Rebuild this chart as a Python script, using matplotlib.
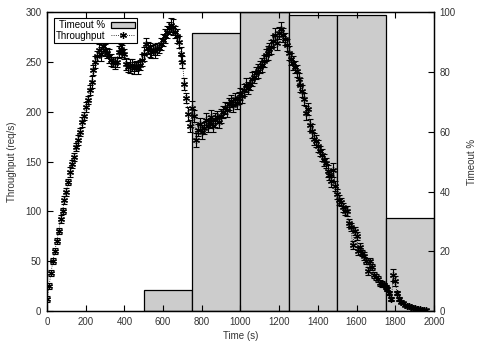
import numpy as np
import matplotlib
matplotlib.use("Agg")
import matplotlib.pyplot as plt

plt.rcParams['font.family'] = ['Liberation Sans', 'DejaVu Sans']

# timeout percentage per 250 s window
bin_left = [500, 750, 1000, 1250, 1500, 1750]
timeout_pct = [7, 93, 100, 99, 99, 31]
bin_width = 250

# throughput sampled every 10 s
time_s = np.arange(0, 1970, 10)
throughput = [
    12, 25, 38, 50, 60, 70, 80, 92, 100, 112,
    120, 130, 140, 148, 155, 165, 172, 180, 190, 196,
    205, 212, 222, 230, 242, 250, 256, 262, 258, 266,
    262, 259, 256, 252, 250, 249, 250, 260, 263, 261,
    258, 248, 245, 246, 247, 244, 246, 244, 247, 252,
    258, 268, 264, 262, 260, 262, 261, 263, 264, 268,
    272, 276, 280, 284, 287, 285, 280, 276, 270, 258,
    250, 228, 214, 198, 186, 204, 196, 172, 182, 188,
    180, 184, 192, 186, 190, 195, 186, 192, 195, 190,
    196, 200, 204, 202, 208, 211, 207, 213, 209, 214,
    218, 216, 222, 227, 224, 228, 233, 235, 239, 241,
    245, 247, 251, 257, 259, 263, 265, 271, 277, 269,
    279, 283, 277, 273, 267, 259, 253, 249, 245, 241,
    233, 227, 221, 213, 199, 203, 187, 181, 173, 171,
    166, 161, 157, 152, 149, 141, 137, 131, 142, 126,
    118, 112, 110, 104, 100, 100, 88, 84, 66, 80,
    75, 60, 64, 58, 55, 50, 40, 50, 44, 36,
    34, 32, 28, 27, 26, 24, 22, 18, 12, 36,
    30, 18, 12, 9, 8, 6, 5, 5, 4, 3,
    3, 2, 2, 2, 1, 1, 1,
]
throughput_err = [
    3, 3, 3, 3, 3, 3, 3, 4, 3, 4,
    4, 3, 5, 4, 4, 4, 5, 4, 5, 4,
    5, 4, 5, 6, 5, 6, 5, 6, 7, 5,
    6, 5, 7, 6, 5, 6, 5, 6, 5, 6,
    5, 6, 5, 7, 6, 6, 5, 6, 5, 6,
    7, 6, 6, 7, 6, 5, 7, 6, 5, 6,
    6, 7, 6, 6, 7, 8, 6, 7, 6, 7,
    6, 6, 5, 7, 6, 7, 6, 7, 6, 6,
    7, 6, 7, 6, 6, 7, 6, 7, 6, 6,
    7, 6, 6, 7, 6, 6, 7, 6, 6, 6,
    6, 7, 6, 7, 6, 6, 7, 6, 6, 7,
    6, 7, 6, 6, 7, 6, 7, 6, 7, 7,
    6, 7, 7, 6, 6, 7, 6, 7, 6, 6,
    6, 7, 6, 6, 7, 6, 6, 7, 6, 6,
    6, 5, 6, 6, 5, 6, 5, 6, 7, 5,
    5, 5, 4, 5, 4, 5, 4, 4, 4, 4,
    4, 4, 4, 3, 4, 3, 4, 3, 3, 3,
    3, 3, 3, 3, 2, 2, 2, 2, 2, 6,
    5, 2, 2, 1, 1, 1, 1, 1, 1, 1,
    1, 1, 1, 1, 1, 1, 1,
]

text_col = '#333333'

fig = plt.figure(figsize=(4.8, 3.45), dpi=100)
ax = fig.add_axes([0.098, 0.098, 0.806, 0.867])
ax2 = ax.twinx()

# timeout bars on the right axis, behind the throughput
bars = ax2.bar(bin_left, timeout_pct, width=bin_width, align='edge',
               color='#cccccc', edgecolor='black', linewidth=0.9,
               label='Timeout %')
ax2.set_ylim(0, 100)
ax2.set_yticks(range(0, 101, 20))
ax2.set_ylabel('Timeout %', fontsize=7, color=text_col, labelpad=8)

ax.set_zorder(ax2.get_zorder() + 1)
ax.patch.set_visible(False)

eb = ax.errorbar(time_s, throughput, yerr=throughput_err, fmt='none',
                 ecolor='black', elinewidth=0.8, capsize=2.5, capthick=0.8)
line, = ax.plot(time_s, throughput, color='black', linestyle=':',
                linewidth=0.6, marker=(6, 2, 0), markersize=5,
                markeredgewidth=0.9, label='Throughput')

ax.set_xlim(0, 2000)
ax.set_ylim(0, 300)
ax.set_xticks(range(0, 2001, 200))
ax.set_yticks(range(0, 301, 50))
ax.set_xlabel('Time (s)', fontsize=7, color=text_col, labelpad=3)
ax.set_ylabel('Throughput (req/s)', fontsize=7, color=text_col, labelpad=6)

for a in (ax, ax2):
    a.tick_params(direction='in', length=4, width=0.8, labelsize=7,
                  labelcolor=text_col, pad=4)
    for s in a.spines.values():
        s.set_linewidth(0.9)
ax.tick_params(top=True, right=False)
ax2.tick_params(left=False, top=False)

leg = ax.legend([bars, line], ['Timeout %', 'Throughput'], loc='upper left',
                markerfirst=False, fontsize=7, fancybox=False, framealpha=1,
                edgecolor='black', borderpad=0.2, handlelength=2.5,
                handletextpad=0.6, labelspacing=0.05,
                bbox_to_anchor=(0.005, 0.995))
leg.get_frame().set_linewidth(0.8)

fig.savefig('out.png', dpi=100)
